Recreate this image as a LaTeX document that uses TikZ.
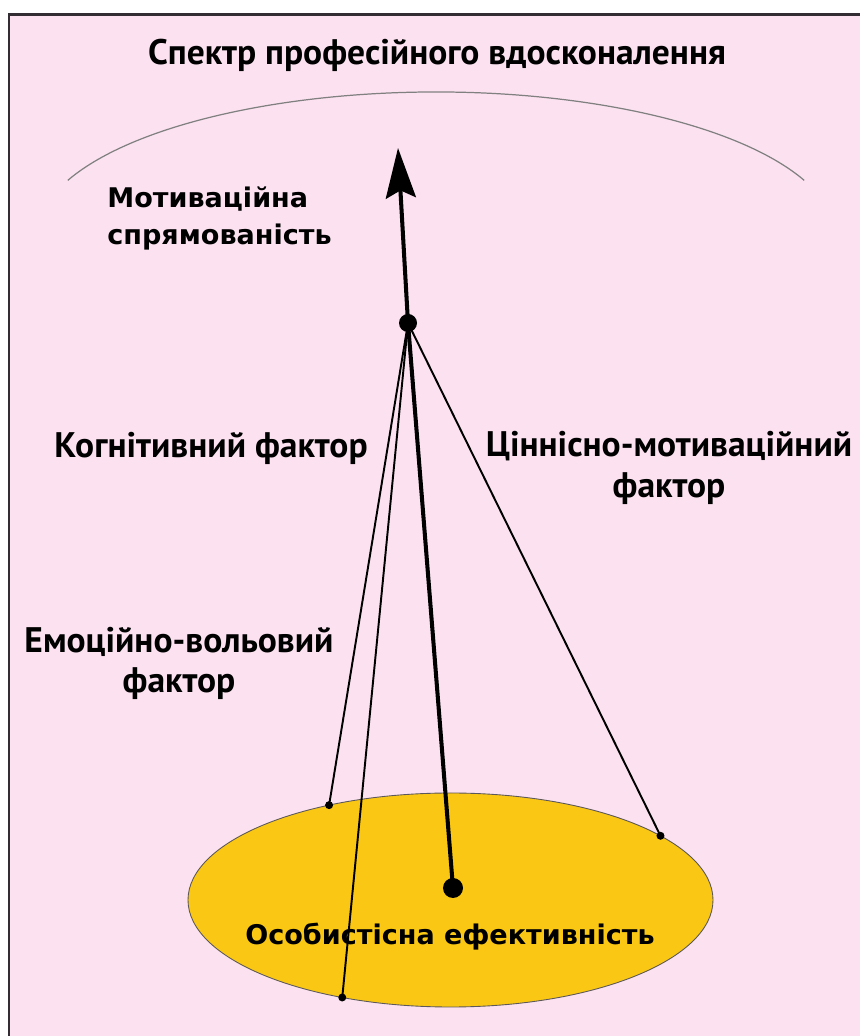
\documentclass[tikz,border=0pt]{standalone}
\usepackage{fontspec}
\usepackage{tikz}
\usetikzlibrary{shapes.geometric,arrows.meta}
\newfontfamily\ptsans{PT Sans}
\newfontfamily\dejavu{DejaVu Sans}
\definecolor{bgpink}{RGB}{252,226,240}
\definecolor{gold}{RGB}{250,200,20}
\definecolor{framegray}{RGB}{50,45,50}

\begin{document}
\begin{tikzpicture}[
    lbl/.style={font=\ptsans\bfseries\fontsize{20.2}{23}\selectfont, inner sep=0pt},
    widelbl/.style={font=\dejavu\bfseries\fontsize{15.4}{21}\selectfont, inner sep=0pt},
    thinline/.style={line width=1.1pt},
    thickline/.style={line width=2.3pt},
    enddot/.style={circle, fill=black, inner sep=0pt, minimum size=0.16cm}
  ]
  \useasboundingbox (0,0) rectangle (17.2,20.72);

  % Background and frame
  \fill[bgpink] (0.18,0) rectangle (17.2,20.42);
  \draw[framegray, line width=1.7pt] (0.18,0) -- (0.18,20.42) -- (17.2,20.42);

  % Title and spectrum arc
  \node[lbl] (title) at (8.74,19.62) {Спектр професійного вдосконалення};
  \draw[gray, line width=0.7pt] (1.356,17.113)
    arc[start angle=157, end angle=23, x radius=8, y radius=2.9];

  % Ellipse of personal effectiveness
  \node[ellipse, draw=framegray!80, fill=gold, line width=0.5pt,
        minimum width=10.5cm, minimum height=4.28cm,
        inner sep=0pt, outer sep=0pt] (base) at (9.01,2.72) {};
  \node[widelbl] (effect) at (9.0,1.98) {Особистісна ефективність};

  % Hub, tip and end points
  \node[circle, fill=black, inner sep=0pt, minimum size=0.36cm] (hub) at (8.16,14.26) {};
  \coordinate (tip) at (7.96,17.76);
  \node[circle, fill=black, inner sep=0pt, minimum size=0.4cm] (core) at (9.06,2.96) {};
  \node[enddot] (emo) at (base.142.2) {};
  \node[enddot] (cog) at (base.222.1) {};
  \node[enddot] (val) at (base.17.5) {};

  % Connectors
  \draw[thickline, -{Stealth[length=1cm, width=0.6cm, inset=0.15cm]}] (hub.center) -- (tip);
  \draw[thickline] (hub.center) -- (core.center);
  \draw[thinline] (hub.center) -- (emo.center);
  \draw[thinline] (hub.center) -- (cog.center);
  \draw[thinline] (hub.center) -- (val.center);

  % Factor labels
  \node[widelbl, anchor=west, align=left] (motiv) at (2.14,16.35)
    {Мотиваційна\\спрямованість};
  \node[lbl] (cogn) at (4.22,11.76) {Когнітивний фактор};
  \node[lbl, align=center] (value) at (13.38,11.36)
    {Ціннісно-мотиваційний\\фактор};
  \node[lbl, align=center] (emot) at (3.58,7.45)
    {Емоційно-вольовий\\фактор};
\end{tikzpicture}
\end{document}
